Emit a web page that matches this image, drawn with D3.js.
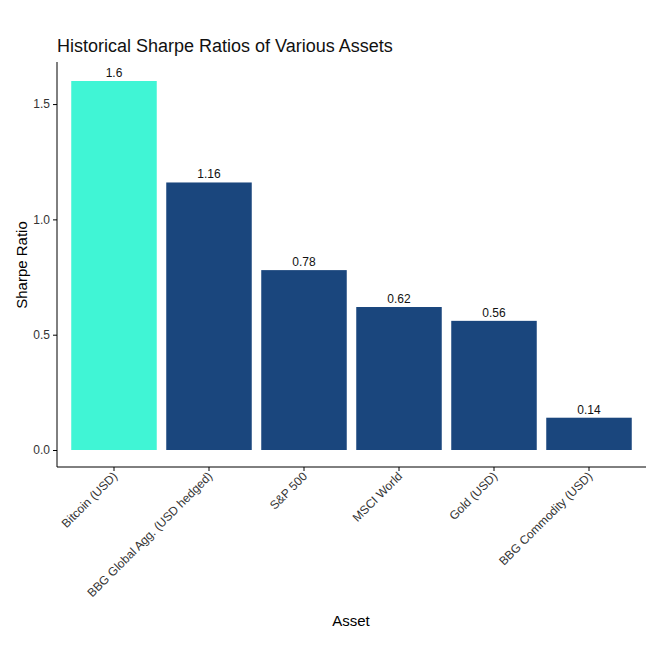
<!DOCTYPE html>
<html><head><meta charset="utf-8">
<script src="https://cdn.jsdelivr.net/npm/d3@7"></script>
<style>body{margin:0;background:#fff;font-family:"Liberation Sans",Arial,sans-serif}</style>
</head><body><svg id="c" width="661" height="661"></svg>
<script>
const categories=["Bitcoin (USD)","BBG Global Agg. (USD hedged)","S&P 500","MSCI World","Gold (USD)","BBG Commodity (USD)"];
const values=[1.6,1.16,0.78,0.62,0.56,0.14];
const barColors=["#40F5D5","#1A467D","#1A467D","#1A467D","#1A467D","#1A467D"];
const yTicks=[0,0.5,1.0,1.5];
const svg=d3.select("#c");
const x=d3.scaleBand().domain(categories).range([57,646]).paddingInner(0.1).paddingOuter(0.15);
const y=d3.scaleLinear().domain([0,1.6]).range([450,81]);
svg.append("g").selectAll("rect").data(categories).join("rect")
 .attr("x",d=>x(d)).attr("width",x.bandwidth())
 .attr("y",(d,i)=>y(values[i])).attr("height",(d,i)=>y(0)-y(values[i]))
 .attr("fill",(d,i)=>barColors[i]);
svg.append("g").selectAll("text").data(categories).join("text")
 .attr("x",d=>x(d)+x.bandwidth()/2).attr("y",(d,i)=>y(values[i])-4)
 .attr("text-anchor","middle").attr("font-size",12).attr("fill","#111")
 .text((d,i)=>values[i]);
const ya=svg.append("g").attr("transform","translate(57,0)")
 .call(d3.axisLeft(y).tickValues(yTicks).tickFormat(d3.format(".1f")).tickSizeOuter(0).tickSize(4));
ya.select(".domain").attr("d","M0,62V467");
const xa=svg.append("g").attr("transform","translate(0,467)")
 .call(d3.axisBottom(x).tickSizeOuter(0).tickSize(4));
xa.select(".domain").attr("d","M57,0H646");
[ya,xa].forEach(a=>{a.selectAll("text").attr("font-size",12).attr("fill","#333").attr("font-family","Liberation Sans, Arial");a.selectAll("line,path").attr("stroke","#000");});
xa.selectAll("text").attr("text-anchor","end").attr("dy",null).attr("y",0)
 .attr("transform","translate(4,10) rotate(-45)");
svg.append("text").attr("x",57).attr("y",52).attr("font-size",18).attr("fill","#111").text("Historical Sharpe Ratios of Various Assets");
svg.append("text").attr("transform","translate(27,265) rotate(-90)").attr("text-anchor","middle").attr("font-size",15).text("Sharpe Ratio");
svg.append("text").attr("x",351).attr("y",626).attr("text-anchor","middle").attr("font-size",15).text("Asset");
</script></body></html>
